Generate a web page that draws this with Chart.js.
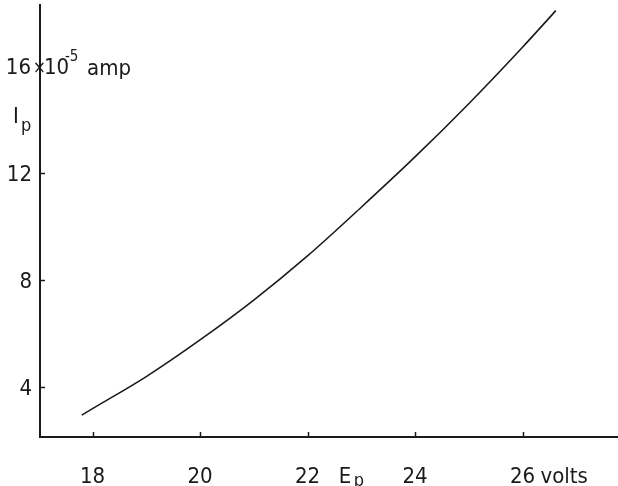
<!DOCTYPE html>
<html>
<head>
<meta charset="utf-8">
<script src="https://cdn.jsdelivr.net/npm/chart.js@4"></script>
<style>
  body { margin: 0; background: #fff; }
  #grafica { display: block; }
</style>
</head>
<body>
<canvas id="grafica" width="618" height="486"></canvas>
<script>
// plate voltage Ep (volts) and plate current Ip (x10^-5 amp)
var voltaje = [17.8, 18, 19, 20, 21, 22, 23, 24, 25, 26, 26.62];
var corriente = [2.95, 3.19, 4.39, 5.76, 7.25, 8.9, 10.72, 12.6, 14.59, 16.7, 18.07];
var ticksX = [18, 20, 22, 24, 26];
var ticksY = [4, 8, 12, 16];

var puntos = voltaje.map(function (v, i) { return { x: v, y: corriente[i] }; });
var fuente = '"DejaVu Sans Condensed", "Liberation Sans Narrow", "DejaVu Sans", sans-serif';
var tinta = '#1a1a1a';

function letra(tam) { return '300 ' + tam + 'px ' + fuente; }

var etiquetas = {
  id: 'etiquetas',
  afterDraw: function (chart) {
    var ctx = chart.ctx;
    var sx = chart.scales.x, sy = chart.scales.y;
    var x0 = sx.getPixelForValue(sx.min);
    var y0 = sy.getPixelForValue(sy.min);
    ctx.save();
    ctx.strokeStyle = tinta;
    ctx.fillStyle = tinta;
    ctx.lineWidth = 1.5;

    // tick marks, drawn inwards
    ticksX.forEach(function (t) {
      var px = Math.round(sx.getPixelForValue(t)) + 0.5;
      ctx.beginPath(); ctx.moveTo(px, y0); ctx.lineTo(px, y0 - 5); ctx.stroke();
    });
    ticksY.slice(0, 3).forEach(function (t) {
      var py = Math.round(sy.getPixelForValue(t)) + 0.5;
      ctx.beginPath(); ctx.moveTo(x0, py); ctx.lineTo(x0 + 5, py); ctx.stroke();
    });

    // x labels
    ctx.font = letra(22);
    ctx.textBaseline = 'alphabetic';
    ctx.textAlign = 'center';
    ticksX.forEach(function (t) {
      ctx.fillText(String(t), sx.getPixelForValue(t), y0 + 46);
    });
    ctx.textAlign = 'left';
    ctx.fillText('volts', sx.getPixelForValue(26) + 18, y0 + 46);

    // Ep between 22 and 24
    var pe = sx.getPixelForValue(22.58);
    ctx.fillText('E', pe, y0 + 46);
    ctx.font = letra(18);
    ctx.fillText('p', pe + 15, y0 + 49);

    // y labels
    ctx.font = letra(22);
    ctx.textAlign = 'right';
    ctx.textBaseline = 'middle';
    ticksY.slice(0, 3).forEach(function (t) {
      ctx.fillText(String(t), 32, sy.getPixelForValue(t) + 2);
    });

    // 16x10^-5 amp
    var p16 = sy.getPixelForValue(16) + 2;
    ctx.textAlign = 'right';
    ctx.fillText('16', 31, p16);
    ctx.textAlign = 'left';
    ctx.font = letra(17);
    ctx.fillText('\u00d7', 33, p16 + 1);
    ctx.font = letra(22);
    ctx.fillText('10', 44, p16);
    ctx.font = letra(15);
    ctx.fillText('-5', 65, p16 - 11);
    ctx.font = letra(22);
    ctx.fillText('amp', 87, p16 + 1);

    // Ip
    ctx.fillText('I', 13, sy.getPixelForValue(14.1));
    ctx.font = letra(18);
    ctx.fillText('p', 21, sy.getPixelForValue(13.75));
    ctx.restore();
  }
};

var grafica = new Chart(document.getElementById('grafica'), {
  type: 'scatter',
  data: {
    datasets: [{
      label: 'Ip',
      data: puntos,
      showLine: true,
      borderColor: tinta,
      borderWidth: 1.6,
      pointRadius: 0,
      cubicInterpolationMode: 'monotone',
      fill: false
    }]
  },
  options: {
    responsive: false,
    animation: false,
    devicePixelRatio: 1,
    layout: { padding: { left: 40, top: 5, right: 1, bottom: 49 } },
    plugins: {
      legend: { display: false },
      tooltip: { enabled: false }
    },
    scales: {
      x: {
        type: 'linear',
        min: 17.023,
        max: 27.758,
        grid: { display: false, drawTicks: false },
        border: { display: true, color: tinta, width: 2 },
        ticks: { display: false }
      },
      y: {
        type: 'linear',
        min: 2.131,
        max: 18.28,
        grid: { display: false, drawTicks: false },
        border: { display: true, color: tinta, width: 2 },
        ticks: { display: false }
      }
    }
  },
  plugins: [etiquetas]
});
</script>
</body>
</html>
